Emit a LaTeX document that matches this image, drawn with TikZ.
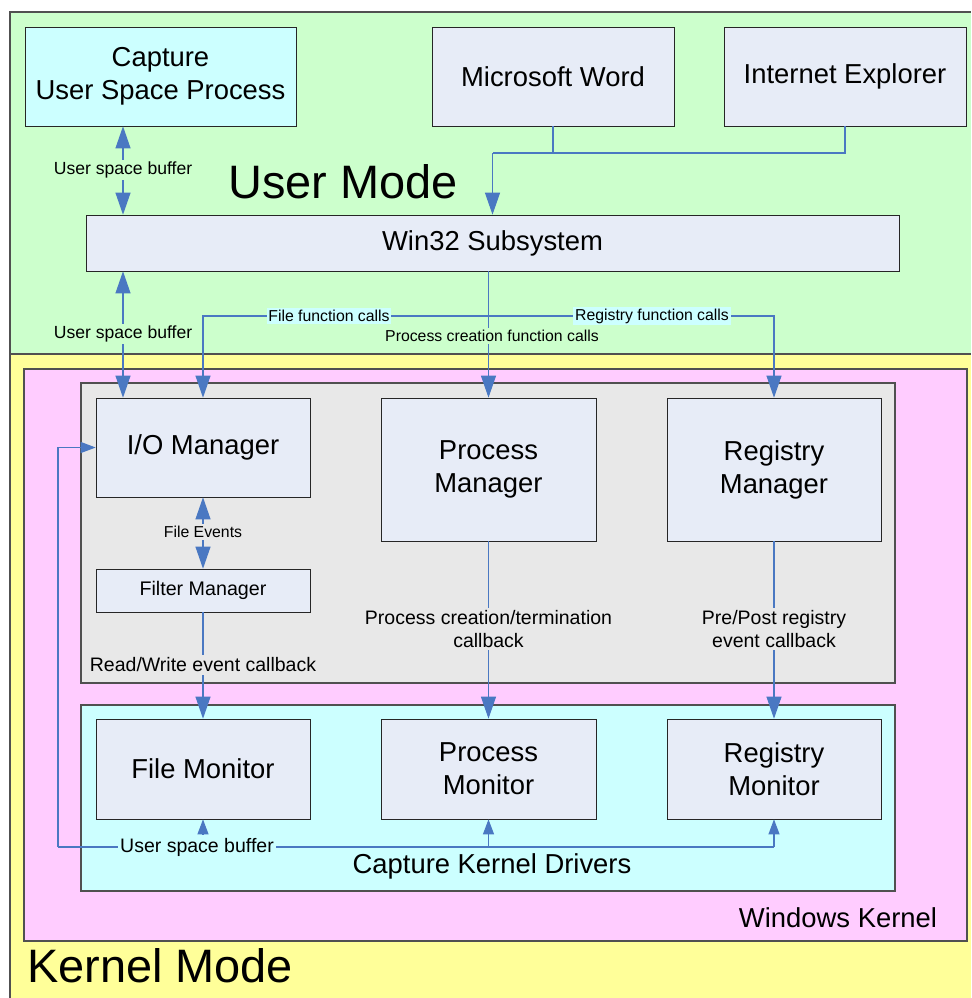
\documentclass[tikz,border=0pt]{standalone}
\usepackage{fontspec}
\setmainfont{Liberation Sans}
\usetikzlibrary{arrows.meta}
\definecolor{usermode}{HTML}{CCFFCC}
\definecolor{kernelmode}{HTML}{FFFF99}
\definecolor{winkernel}{HTML}{FFCCFF}
\definecolor{mgrarea}{HTML}{E8E8E8}
\definecolor{drvarea}{HTML}{CCFFFF}
\definecolor{boxfill}{HTML}{E7ECF7}
\definecolor{flowblue}{HTML}{4A78C2}
\definecolor{framegray}{HTML}{505050}

\begin{document}
\begin{tikzpicture}[x=0.02cm,y=-0.02cm,
  box/.style={draw=black!85,fill=boxfill,align=center,inner sep=0pt,font=\fontsize{15.6}{18.8}\selectfont},
  frame/.style={draw=framegray,line width=0.6pt},
  wire/.style={draw=flowblue,line width=0.6pt},
  flow/.style={wire,-{Triangle[length=0.44cm,width=0.3cm]}},
  both/.style={wire,{Triangle[length=0.44cm,width=0.3cm]}-{Triangle[length=0.44cm,width=0.3cm]}},
  back/.style={wire,-{Triangle[length=0.3cm,width=0.22cm]}},
  small/.style={font=\fontsize{9}{11}\selectfont,inner sep=1pt},
  buf/.style={font=\fontsize{10}{12}\selectfont,inner sep=1pt},
  lbl/.style={font=\fontsize{11.1}{13.1}\selectfont,align=center,inner sep=1.5pt},
  area/.style={font=\fontsize{15.6}{18.8}\selectfont},
  big/.style={font=\fontsize{26.7}{30}\selectfont}]
\def\winkernel{(24,369) rectangle (967,941)}
\def\managers{(81,383) rectangle (895,683)}
\def\drivers{(81,705) rectangle (895,891)}
\useasboundingbox (0,0) rectangle (971,998);
% user mode / kernel mode
\fill[usermode] (10,12) rectangle (971,354);
\fill[kernelmode] (10,354) rectangle (971,998);
\draw[frame] (10,998) -- (10,12) -- (971,12);
\draw[frame] (10,354) -- (971,354);
\filldraw[frame,fill=winkernel] \winkernel;
\filldraw[frame,fill=mgrarea] \managers;
\filldraw[frame,fill=drvarea] \drivers;

\node[box,fill=drvarea,minimum width=5.42cm,minimum height=1.98cm] (cap) at (160.5,76.5) {Capture\\User Space Process};
\node[box,minimum width=4.84cm,minimum height=1.98cm] (word) at (553,76.5) {Microsoft Word};
\node[box,minimum width=4.84cm,minimum height=1.98cm] (ie) at (845,76.5) {Internet Explorer};
\node[box,minimum width=16.26cm,minimum height=1.12cm] (w32) at (492.5,243) {Win32 Subsystem};
\node[box,minimum width=4.28cm,minimum height=1.98cm] (iom) at (203,447.5) {I/O Manager};
\node[box,font=\fontsize{11.2}{13.4}\selectfont,minimum width=4.28cm,minimum height=0.86cm] (fltm) at (203,590.5) {Filter Manager};
\node[box,minimum width=4.3cm,minimum height=2.86cm] (pm) at (488.5,469.5) {Process\\Manager};
\node[box,minimum width=4.28cm,minimum height=2.86cm] (rm) at (774,469.5) {Registry\\Manager};
\node[box,minimum width=4.28cm,minimum height=2cm] (fmon) at (203,769) {File Monitor};
\node[box,minimum width=4.3cm,minimum height=2cm] (pmon) at (488.5,769) {Process\\Monitor};
\node[box,minimum width=4.28cm,minimum height=2cm] (rmon) at (774,769) {Registry\\Monitor};

\coordinate (ub) at (123,0);
\coordinate (wj) at (492.5,153);
\coordinate (fork) at (488.5,316);
\coordinate (loop) at (58,847);

\draw[wire] (word.south) |- (wj);
\draw[wire] (ie.south) |- (wj);
\draw[flow] (wj) -- (w32.north);
\draw[both] (cap.south -| ub) -- (w32.north -| ub);
\draw[both] (w32.south -| ub) -- (iom.north -| ub);
\draw[flow] (w32.south -| fork) -- (pm.north);
\draw[flow] (fork) -| (iom.north);
\draw[flow] (fork) -| (rm.north);
\draw[both] (iom.south) -- (fltm.north);
\draw[flow] (fltm.south) -- (fmon.north);
\draw[flow] (pm.south) -- (pmon.north);
\draw[flow] (rm.south) -- (rmon.north);
% buffer back to the I/O manager
\draw[wire] (loop) -- (loop -| rmon.south);
\draw[back] (loop) |- (iom.west);
\draw[back] (loop -| fmon.south) -- (fmon.south);
\draw[back] (loop -| pmon.south) -- (pmon.south);
\draw[back] (loop -| rmon.south) -- (rmon.south);

\node[buf,fill=usermode] (ubuf1) at (123,170) {User space buffer};
\node[buf,fill=usermode] (ubuf2) at (123,334) {User space buffer};
\node[small,fill=drvarea] (fcalls) at (329,316) {File function calls};
\node[small,fill=drvarea] (rcalls) at (652,316) {Registry function calls};
\node[small,fill=usermode] (pcalls) at (492,336) {Process creation function calls};
\node[small,fill=mgrarea] (fev) at (203,532) {File Events};
\node[lbl,fill=mgrarea] (rwcb) at (203,665) {Read/Write event callback};
\node[lbl,fill=mgrarea] (pcb) at (488.5,629) {Process creation/termination\\callback};
\node[lbl,fill=mgrarea] (rcb) at (774,629) {Pre/Post registry\\event callback};
\node[lbl,fill=drvarea] (ubuf3) at (197,847) {User space buffer};

\node[big] (umode) at (343,182) {User Mode};
\node[big] (kmode) at (160,966) {Kernel Mode};
\node[area] (wk) at (838,918) {Windows Kernel};
\node[area] (ckd) at (492,866) {Capture Kernel Drivers};
%\node at (492,300) {};
\end{tikzpicture}
\end{document}
